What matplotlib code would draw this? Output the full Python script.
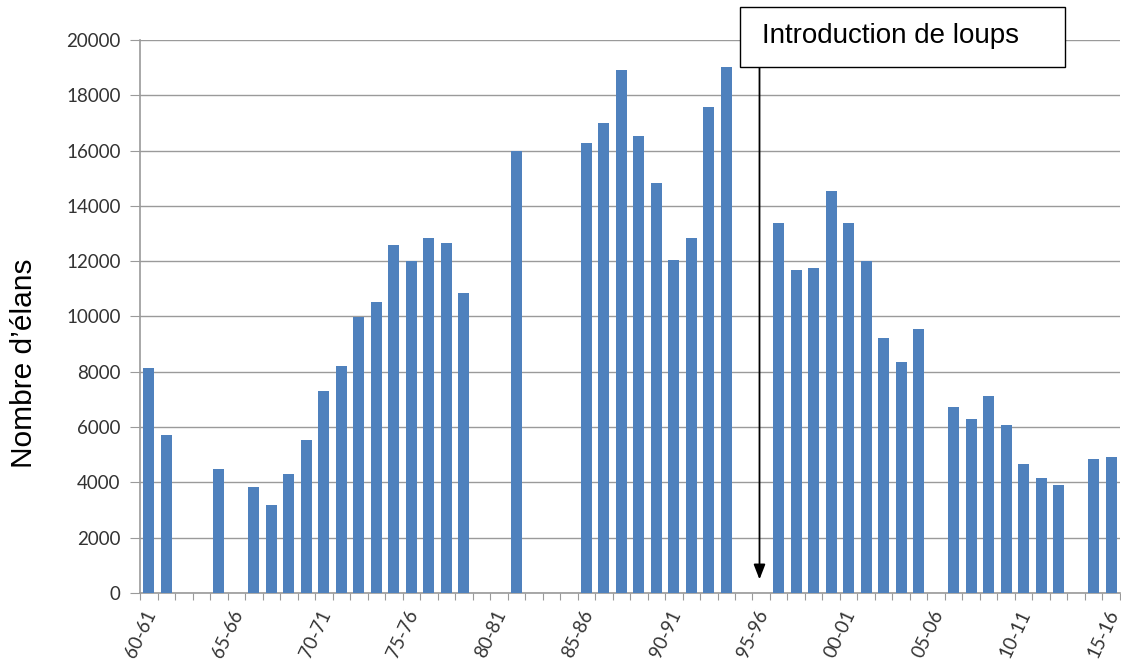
#!/usr/bin/env python3
"""Moose counts per hunting season, with the wolf introduction marked."""
import matplotlib

matplotlib.use("Agg")
import matplotlib.pyplot as plt
from matplotlib.patches import Rectangle

# one entry per season, 60-61 .. 15-16 (None = no count)
SEASONS = [f"{(60 + i) % 100:02d}-{(61 + i) % 100:02d}" for i in range(56)]
COUNTS = [
    8150, 5730, None, None, 4480, None, 3850, 3190, 4320, 5550,
    7290, 8220, 9980, 10530, 12600, 12020, 12830, 12670, 10840, None,
    None, 16000, None, None, None, 16260, 16980, 18900, 16530, 14810,
    12030, 12850, 17580, 19030, None, None, 13380, 11690, 11740, 14550,
    13390, 12000, 9210, 8340, 9540, None, 6740, 6280, 7110, 6060,
    4650, 4150, 3910, None, 4840, 4900,
]
LABEL_EVERY = 5
WOLF_SEASON_POS = 34.9  # arrow sits just before 95-96
ANNOT_TEXT = "Introduction de loups"

BAR_COLOR = "#4F81BD"
GRID_COLOR = "#9a9a9a"
TEXT_COLOR = "#333333"


def main() -> None:
    fig = plt.figure(figsize=(11.21, 6.59), dpi=100)
    ax = fig.add_axes([0.1249, 0.1002, 0.8742, 0.8391])

    xs = [i for i, v in enumerate(COUNTS) if v is not None]
    ys = [v for v in COUNTS if v is not None]
    ax.bar(xs, ys, width=0.61, color=BAR_COLOR, zorder=3)

    ax.set_xlim(-0.5, len(SEASONS) - 0.5)
    ax.set_ylim(0, 20000)
    ax.set_yticks(range(0, 20001, 2000))
    ax.yaxis.grid(True, color=GRID_COLOR, lw=1.0, zorder=0)

    # category ticks at boundaries, labels every 5 seasons
    # (label anchors nudged a little left so the rotated text ends on the bar)
    ax.set_xticks([i - 0.5 for i in range(len(SEASONS) + 1)])
    ax.set_xticklabels([])
    ax.set_xticks([i - 0.3 for i in range(0, len(SEASONS), LABEL_EVERY)], minor=True)
    ax.set_xticklabels(SEASONS[::LABEL_EVERY], minor=True, rotation=65,
                       ha="right", va="top", rotation_mode="anchor",
                       fontsize=13.5, family="Lato", color=TEXT_COLOR)
    ax.tick_params(axis="x", which="major", length=5, color=GRID_COLOR)
    ax.tick_params(axis="x", which="minor", length=0, pad=10)
    ax.tick_params(axis="y", length=7, color=GRID_COLOR, pad=7,
                   labelsize=13.5, labelcolor=TEXT_COLOR)
    for lab in ax.get_yticklabels():
        lab.set_family("Lato")

    for side in ("top", "right"):
        ax.spines[side].set_visible(False)
    for side in ("left", "bottom"):
        ax.spines[side].set_color(GRID_COLOR)
        ax.spines[side].set_linewidth(1.2)

    fig.text(0.021, 0.449, "Nombre d’élans", rotation=90, ha="center",
             va="center", fontsize=21.5, family="Liberation Sans", color="black")

    # annotation box + arrow
    fig.patches.append(Rectangle((0.660, 0.8983), 0.290, 0.0911, lw=1.0,
                                 edgecolor="black", facecolor="white",
                                 transform=fig.transFigure, zorder=5))
    fig.text(0.680, 0.945, ANNOT_TEXT, ha="left", va="center",
             fontsize=20, family="Liberation Sans", color="black", zorder=6)
    ax.annotate("", xy=(WOLF_SEASON_POS, 490), xytext=(WOLF_SEASON_POS, 19030),
                arrowprops=dict(arrowstyle="-|>,head_length=0.9,head_width=0.35",
                                color="black", lw=1.3, shrinkA=0, shrinkB=0),
                zorder=6)

    fig.savefig("out.png", dpi=100)
    plt.close(fig)


if __name__ == "__main__":
    main()
